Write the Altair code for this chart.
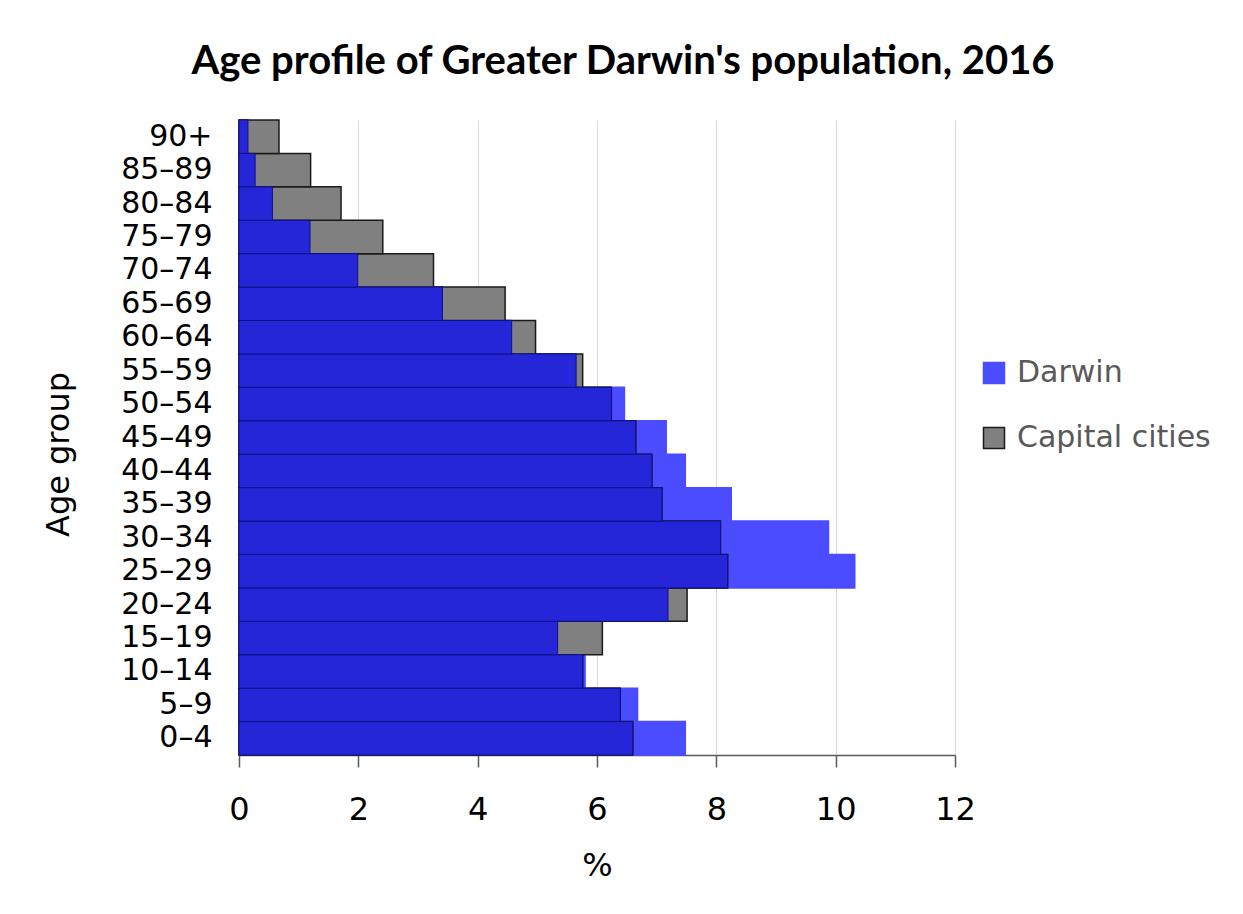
import altair as alt
import pandas as pd

# Age groups, bottom (youngest) to top (oldest)
age_groups = ["0–4", "5–9", "10–14", "15–19", "20–24", "25–29", "30–34",
              "35–39", "40–44", "45–49", "50–54", "55–59", "60–64", "65–69",
              "70–74", "75–79", "80–84", "85–89", "90+"]
# Share of population (%)
darwin = [7.48, 6.68, 5.80, 5.34, 7.19, 10.32, 9.88, 8.25, 7.48, 7.16,
          6.46, 5.65, 4.57, 3.41, 1.99, 1.19, 0.56, 0.27, 0.15]
capital = [6.60, 6.39, 5.76, 6.09, 7.51, 8.19, 8.07, 7.09, 6.92, 6.65,
           6.24, 5.76, 4.97, 4.46, 3.26, 2.41, 1.71, 1.20, 0.67]
series = ["Darwin", "Capital cities"]
x_ticks = [0, 2, 4, 6, 8, 10, 12]

df = pd.DataFrame({"age": age_groups, "Darwin": darwin, "Capital cities": capital})
y_order = list(reversed(age_groups))

FONT = "DejaVu Sans"
AXIS_COL = "#595959"

y_enc = alt.Y(
    "age:N", sort=y_order,
    scale=alt.Scale(paddingInner=0, paddingOuter=0),
    axis=alt.Axis(
        title="Age group", ticks=False, tickSize=0, labelPadding=27,
        labelFontSize=30, labelFont=FONT, labelColor="#000000",
        titleFontSize=32, titleFont=FONT, titleFontWeight="normal",
        titleColor="#000000", titleAngle=-90, titleX=-181, titleY=334,
        titleBaseline="middle", titleAlign="center",
        domainColor=AXIS_COL, domainWidth=1.5, grid=False,
    ),
)
x_scale = alt.Scale(domain=[0, 12], nice=False)
x_axis = alt.Axis(
    title="%", values=x_ticks, tickSize=12, tickColor=AXIS_COL, tickWidth=1.5,
    labelPadding=27, labelFontSize=32, labelFont=FONT, labelColor="#000000",
    labelFlush=False, titleFontSize=32, titleFont=FONT, titleFontWeight="normal",
    titleColor="#000000", titleX=358, titleY=110, titleBaseline="middle",
    gridColor="#D9D9D9", gridWidth=1, domainColor=AXIS_COL, domainWidth=1.5,
)

legend = alt.Legend(
    title=None, orient="none", legendX=740, legendY=238,
    symbolType="square", symbolSize=441, symbolStrokeWidth=1.5,
    labelFontSize=30, labelFont=FONT, labelColor="#595959", labelLimit=0,
    rowPadding=35, labelOffset=8,
)

bars = (
    alt.Chart(df)
    .transform_fold(series, as_=["series", "pct"])
    .transform_calculate(ord="datum.series == 'Darwin' ? 0 : 1")
    .mark_bar(strokeWidth=1.5)
    .encode(
        y=y_enc,
        x=alt.X("pct:Q", stack=None, scale=x_scale, axis=x_axis),
        color=alt.Color("series:N", scale=alt.Scale(domain=series, range=["#4B4BFF", "#808080"]), legend=legend),
        stroke=alt.Stroke("series:N", scale=alt.Scale(domain=series, range=["#4B4BFF", "#1A1A1A"]), legend=legend),
        order=alt.Order("ord:Q"),
    )
)

overlap = (
    alt.Chart(df)
    .transform_calculate(m="min(datum.Darwin, datum['Capital cities'])")
    .mark_bar(color="#2626D9", stroke="#10108A", strokeWidth=1)
    .encode(y=y_enc, x=alt.X("m:Q", scale=x_scale, axis=x_axis))
)

chart = (
    alt.layer(bars, overlap)
    .properties(
        width=716, height=635,
        title=alt.Title(
            "Age profile of Greater Darwin's population, 2016",
            font="Lato", fontSize=40, fontWeight="bold", color="#000000",
            anchor="middle", dx=26, offset=37,
        ),
        autosize=alt.AutoSizeParams(type="none"),
        padding={"left": 231, "top": 112, "right": 278, "bottom": 140},
        background="white",
    )
    .configure_view(stroke=None)
)

chart.save("out.html", embed_options={"renderer": "svg", "actions": False})
